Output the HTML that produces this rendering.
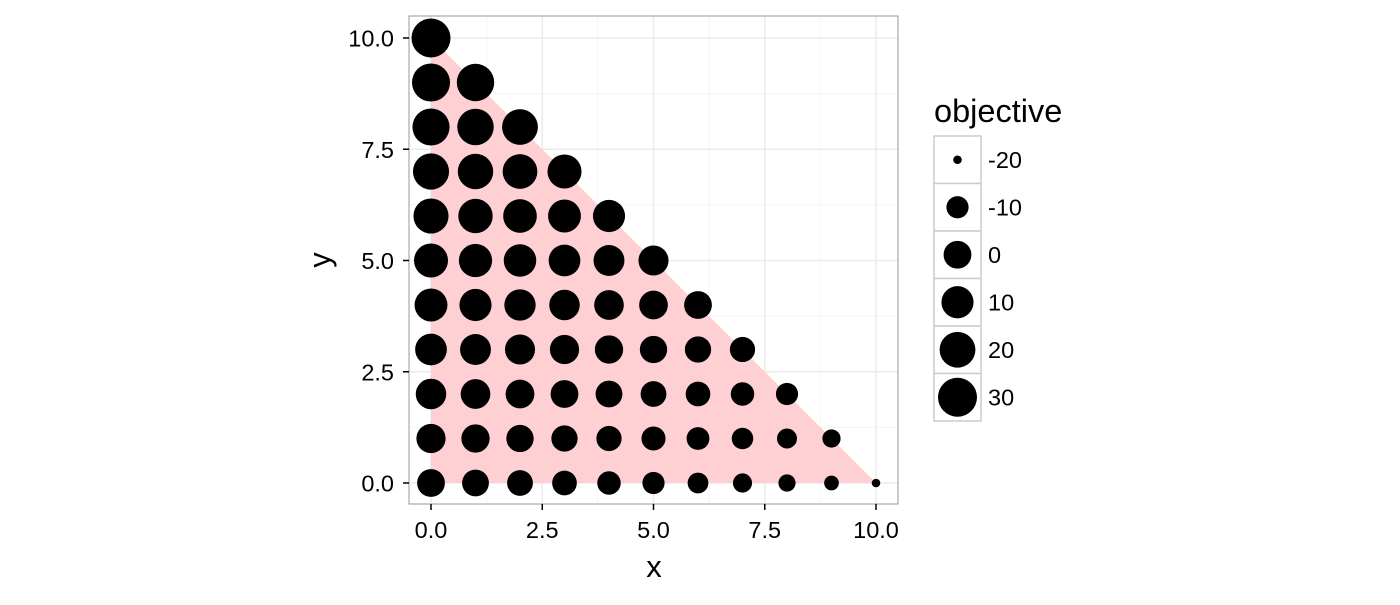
<!DOCTYPE html>
<html><head><meta charset="utf-8"><style>
body{margin:0;background:#fff}
svg text{font-family:"Liberation Sans",Arial,sans-serif}
</style></head><body>
<svg id="c" width="1400" height="600" xmlns="http://www.w3.org/2000/svg"></svg>
<script>
// objective values per row: row index = y, position within row = x
const objectiveRows = [
  [0,-2,-4,-6,-8,-10,-12,-14,-16,-18,-20],
  [3,1,-1,-3,-5,-7,-9,-11,-13,-15],
  [6,4,2,0,-2,-4,-6,-8,-10],
  [9,7,5,3,1,-1,-3,-5],
  [12,10,8,6,4,2,0],
  [15,13,11,9,7,5],
  [18,16,14,12,10],
  [21,19,17,15],
  [24,22,20],
  [27,25],
  [30]
];
const xTicks = [0,2.5,5,7.5,10];
const yTicks = [0,2.5,5,7.5,10];
const tickLabels = ["0.0","2.5","5.0","7.5","10.0"];
const legendValues = [-20,-10,0,10,20,30];
const regionX = [0,10,0];
const regionY = [0,0,10];

const NS="http://www.w3.org/2000/svg", svg=document.getElementById('c');
const P={l:409,r:898,t:16,b:504};
const sx=v=>431+v*44.5, sy=v=>483-v*44.5;
const rr=v=>4.3+15.2*Math.sqrt(Math.max(0,(v+20)/50));
function mk(t,a,p){const e=document.createElementNS(NS,t);for(const k in a)e.setAttribute(k,a[k]);(p||svg).appendChild(e);return e;}

let e=mk('rect',{x:P.l,y:P.t,width:P.r-P.l,height:P.b-P.t,fill:'#fff'});


for(let i=0;i<4;i++){const v=1.25+i*2.5;
 e=mk('line',{x1:sx(v),x2:sx(v),y1:P.t,y2:P.b,stroke:'#f5f5f5','stroke-width':1});
 
 
 e=mk('line',{y1:sy(v),y2:sy(v),x1:P.l,x2:P.r,stroke:'#f5f5f5','stroke-width':1});
 
 }
xTicks.forEach(v=>{e=mk('line',{x1:sx(v),x2:sx(v),y1:P.t,y2:P.b,stroke:'#ebebeb','stroke-width':1.5});
 
 });
yTicks.forEach(v=>{e=mk('line',{y1:sy(v),y2:sy(v),x1:P.l,x2:P.r,stroke:'#ebebeb','stroke-width':1.5});
 
 });
e=mk('polygon',{points:regionX.map((x,i)=>sx(x)+','+sy(regionY[i])).join(' '),fill:'#ffd0d3'});


objectiveRows.forEach((row,y)=>row.forEach((v,x)=>{
 e=mk('circle',{cx:sx(x),cy:sy(y),r:rr(v),fill:'#000'});
 
 }));
e=mk('rect',{x:P.l,y:P.t,width:P.r-P.l,height:P.b-P.t,fill:'none',stroke:'#999','stroke-width':1});


xTicks.forEach((v,i)=>{mk('line',{x1:sx(v),x2:sx(v),y1:P.b,y2:P.b+6,stroke:'#000','stroke-width':1.5});
 e=mk('text',{x:sx(v),y:538,'text-anchor':'middle','font-size':23.5,fill:'#000'});e.textContent=tickLabels[i];
 
 });
yTicks.forEach((v,i)=>{mk('line',{x1:P.l-6,x2:P.l,y1:sy(v),y2:sy(v),stroke:'#000','stroke-width':1.5});
 e=mk('text',{x:394,y:sy(v)+8.5,'text-anchor':'end','font-size':23.5,fill:'#000'});e.textContent=tickLabels[i];
 
 });
e=mk('text',{x:654,y:577,'text-anchor':'middle','font-size':31,fill:'#000'});e.textContent='x';


e=mk('text',{x:0,y:0,'text-anchor':'middle','font-size':31,fill:'#000',transform:'translate(330,260) rotate(-90)'});e.textContent='y';


e=mk('text',{x:934,y:122,'font-size':32.5,fill:'#000'});e.textContent='objective';


legendValues.forEach((v,i)=>{const y0=136+i*47.5;
 e=mk('rect',{x:934,y:y0,width:47,height:47.5,fill:'#fff',stroke:'#cccccc','stroke-width':1.5});
 
 
 e=mk('circle',{cx:957.5,cy:y0+23.75,r:rr(v),fill:'#000'});
 
 
 e=mk('text',{x:988,y:y0+32,'font-size':23.5,fill:'#000'});e.textContent=v;
 
 });
</script>
</body></html>
